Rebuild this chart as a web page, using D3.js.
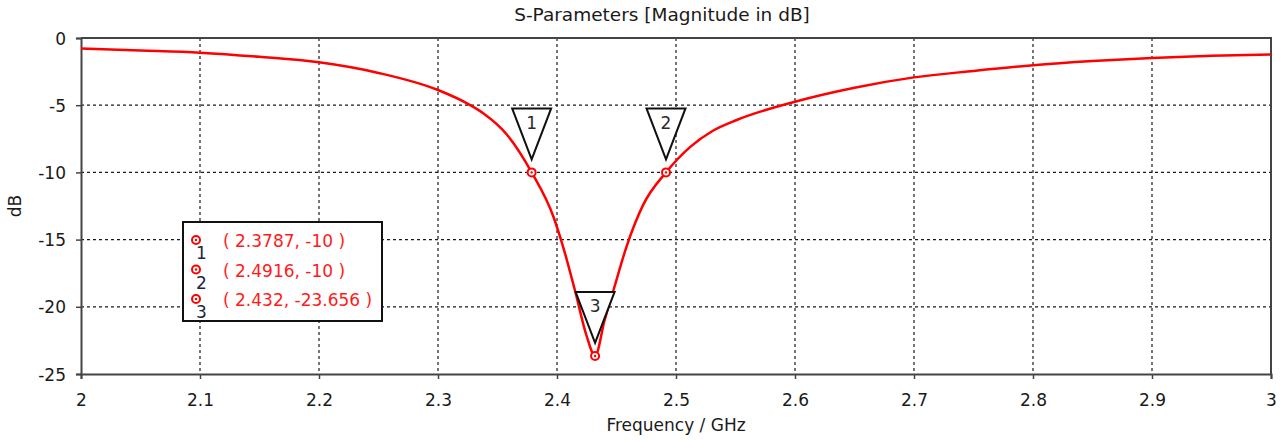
<!DOCTYPE html>
<html>
<head>
<meta charset="utf-8">
<script src="https://cdn.jsdelivr.net/npm/d3@7"></script>
<style>
  body { margin: 0; background: #fff; }
  text { font-family: "DejaVu Sans", sans-serif; }
</style>
</head>
<body>
<svg id="chart" width="1285" height="441"></svg>
<script>
// S11 curve
const freq = [2.0, 2.05, 2.1, 2.15, 2.2, 2.25, 2.3, 2.327, 2.338, 2.358, 2.3787,
  2.397, 2.405, 2.415, 2.425, 2.432, 2.44, 2.448, 2.4585, 2.4725, 2.4916,
  2.512, 2.531, 2.551, 2.6, 2.65, 2.7, 2.75, 2.8, 2.85, 2.9, 2.95, 3.0];
const sParam = [-0.79, -0.93, -1.09, -1.40, -1.81, -2.6, -3.87, -4.99, -5.6, -7.2, -10,
  -13.3, -15.5, -18.75, -22.2, -23.656, -21.0, -18.6, -15.5, -12.4, -10,
  -8.1, -6.9, -6.1, -4.74, -3.7, -2.93, -2.45, -2.03, -1.72, -1.48, -1.32, -1.22];

const markerFreq = [2.3787, 2.4916, 2.432];
const markerDb = [-10, -10, -23.656];
const markerLabels = ["1", "2", "3"];

const xTicks = [2, 2.1, 2.2, 2.3, 2.4, 2.5, 2.6, 2.7, 2.8, 2.9, 3];
const yTicks = [0, -5, -10, -15, -20, -25];

const svg = d3.select("#chart");
const mLeft = 81, mRight = 1271, mTop = 38, mBottom = 374;

const x = d3.scaleLinear().domain([2, 3]).range([mLeft, mRight]);
const y = d3.scaleLinear().domain([-25, 0]).range([mBottom, mTop]);

// grid
const grid = svg.append("g")
  .attr("stroke", "#1a1a1a")
  .attr("stroke-width", 1.2)
  .attr("stroke-dasharray", "3,3");
grid.selectAll("line.v")
  .data(xTicks.slice(1, -1))
  .join("line")
  .attr("class", "v")
  .attr("x1", d => x(d)).attr("x2", d => x(d))
  .attr("y1", mTop).attr("y2", mBottom);
grid.selectAll("line.h")
  .data(yTicks.slice(1, -1))
  .join("line")
  .attr("class", "h")
  .attr("x1", mLeft).attr("x2", mRight)
  .attr("y1", d => y(d)).attr("y2", d => y(d));

// axes (plain hyphen for negatives, like the original)
const fmt = d => String(d);
const xAxis = d3.axisBottom(x).tickValues(xTicks).tickSize(5).tickFormat(fmt);
const yAxis = d3.axisLeft(y).tickValues(yTicks).tickSize(5).tickFormat(fmt);

const gx = svg.append("g").attr("transform", `translate(0,${mBottom})`).call(xAxis);
const gy = svg.append("g").attr("transform", `translate(${mLeft},0)`).call(yAxis);

[gx, gy].forEach(g => {
  g.select(".domain").attr("stroke", "#444").attr("stroke-width", 2);
  g.selectAll(".tick line").attr("stroke", "#444").attr("stroke-width", 1.5);
  g.selectAll(".tick text")
    .attr("fill", "#1a1a1a")
    .style("font-family", "DejaVu Sans, sans-serif")
    .style("font-size", "17px");
});
gx.selectAll(".tick text").attr("y", 20).attr("dy", "0.71em");
gy.selectAll(".tick text").attr("x", -15).attr("dy", "0.36em");

// frame top / right
svg.append("path")
  .attr("d", `M${mLeft},${mTop}H${mRight}V${mBottom}`)
  .attr("fill", "none")
  .attr("stroke", "#444")
  .attr("stroke-width", 2);

// labels
svg.append("text")
  .attr("x", 662).attr("y", 21)
  .attr("text-anchor", "middle")
  .attr("fill", "#1a1a1a")
  .style("font-size", "18.5px")
  .text("S-Parameters [Magnitude in dB]");

svg.append("text")
  .attr("x", (mLeft + mRight) / 2).attr("y", 431)
  .attr("text-anchor", "middle")
  .attr("fill", "#1a1a1a")
  .style("font-size", "17px")
  .text("Frequency / GHz");

svg.append("text")
  .attr("transform", `translate(21,${(mTop + mBottom) / 2}) rotate(-90)`)
  .attr("text-anchor", "middle")
  .attr("fill", "#1a1a1a")
  .style("font-size", "17px")
  .text("dB");

// curve
const line = d3.line()
  .x((d, i) => x(freq[i]))
  .y(d => y(d))
  .curve(d3.curveMonotoneX);

svg.append("path")
  .datum(sParam)
  .attr("d", line)
  .attr("fill", "none")
  .attr("stroke", "#ff0000")
  .attr("stroke-width", 2.5);

// marker triangles
const triW = 39, triH = 51, triGap = 13;
const tri = svg.append("g")
  .selectAll("g")
  .data(markerFreq)
  .join("g")
  .attr("transform", (d, i) => `translate(${x(d)},${y(markerDb[i]) - triGap})`);
tri.append("path")
  .attr("d", `M0,0L${-triW / 2},${-triH}H${triW / 2}Z`)
  .attr("fill", "#fff")
  .attr("stroke", "#111")
  .attr("stroke-width", 2);
tri.append("text")
  .attr("y", -triH + 20.5)
  .attr("text-anchor", "middle")
  .attr("fill", "#2a2a2a")
  .style("font-size", "17px")
  .text((d, i) => markerLabels[i]);

// marker circles
function markerDot(g) {
  g.append("circle")
    .attr("r", 4)
    .attr("fill", "#fff")
    .attr("stroke", "#ff0000")
    .attr("stroke-width", 2);
  g.append("circle")
    .attr("r", 1.2)
    .attr("fill", "#ff0000");
}
svg.append("g")
  .selectAll("g")
  .data(markerFreq)
  .join("g")
  .attr("transform", (d, i) => `translate(${x(d)},${y(markerDb[i])})`)
  .call(markerDot);

// legend box
const leg = svg.append("g").attr("transform", "translate(183,222)");
leg.append("rect")
  .attr("width", 199).attr("height", 99)
  .attr("fill", "#fff")
  .attr("stroke", "#111")
  .attr("stroke-width", 2);
const rows = leg.selectAll("g.row")
  .data(markerFreq)
  .join("g")
  .attr("class", "row")
  .attr("transform", (d, i) => `translate(0,${18 + i * 29.5})`);
rows.append("g").attr("transform", "translate(13,0)").call(markerDot);
rows.append("text")
  .attr("x", 18.5).attr("y", 19)
  .attr("text-anchor", "middle")
  .attr("fill", "#1c2440")
  .style("font-size", "17px")
  .text((d, i) => markerLabels[i]);
rows.append("text")
  .attr("x", 40).attr("y", 7.3)
  .attr("fill", "#ff1a1a")
  .style("font-size", "17px")
  .text((d, i) => `( ${d}, ${markerDb[i]} )`);
</script>
</body>
</html>
